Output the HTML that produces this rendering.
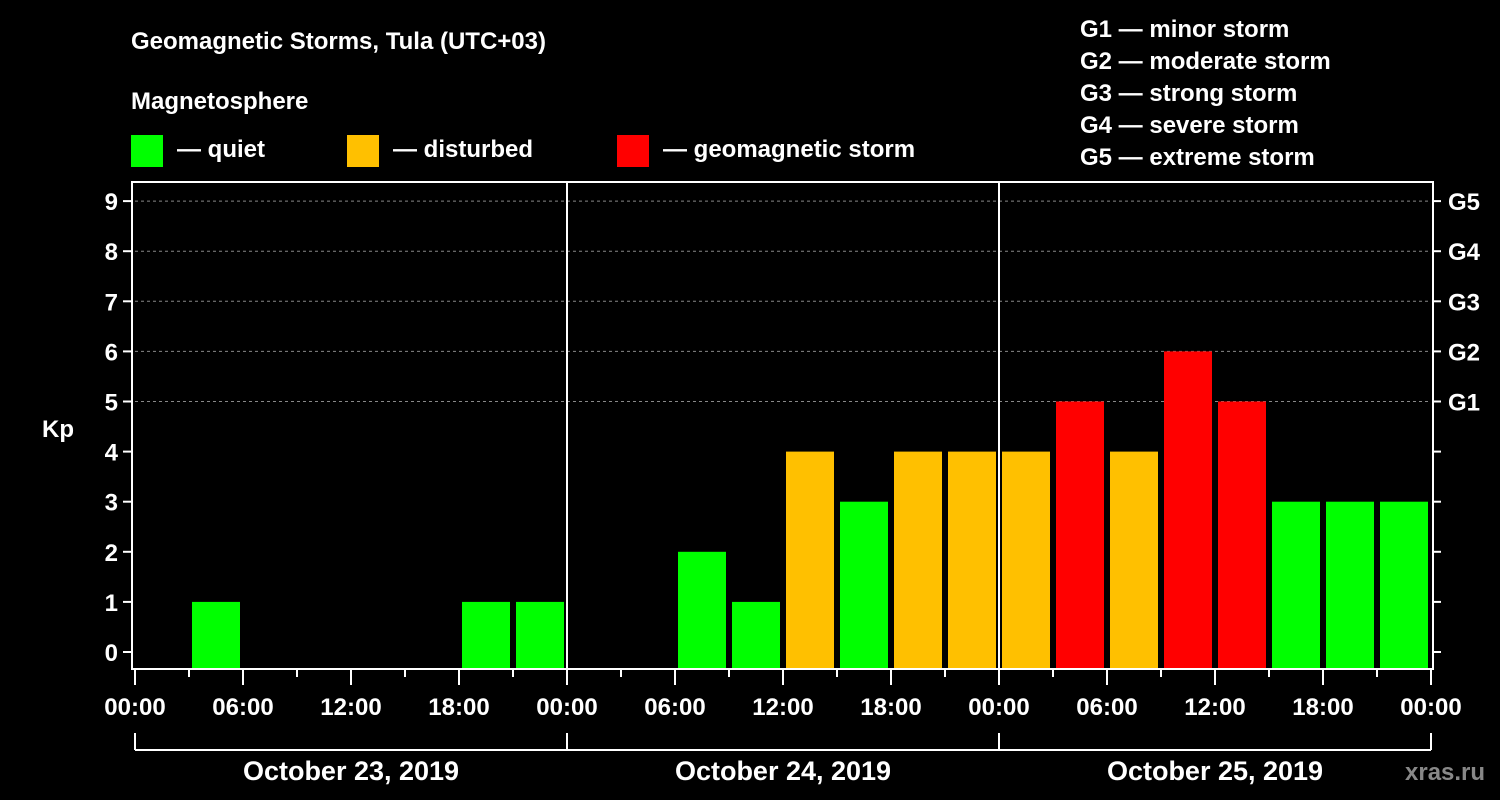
<!DOCTYPE html>
<html><head><meta charset="utf-8"><style>
body{margin:0;background:#000;}
svg{display:block;font-family:"Liberation Sans",Arial,sans-serif;font-weight:bold;}
</style></head><body>
<svg id="c" width="1500" height="800" viewBox="0 0 1500 800">
<rect width="1500" height="800" fill="#000"/>
<text x="131" y="49" fill="#fff" font-size="24">Geomagnetic Storms, Tula (UTC+03)</text>
<text x="131" y="109" fill="#fff" font-size="24">Magnetosphere</text>
<g><rect x="131" y="135" width="32" height="32" fill="#00ff00"/><text x="177" y="157" fill="#fff" font-size="24">— quiet</text></g>
<g><rect x="347" y="135" width="32" height="32" fill="#ffc000"/><text x="393" y="157" fill="#fff" font-size="24">— disturbed</text></g>
<g><rect x="617" y="135" width="32" height="32" fill="#ff0000"/><text x="663" y="157" fill="#fff" font-size="24">— geomagnetic storm</text></g>
<g fill="#fff" font-size="24">
<text x="1080" y="37">G1 — minor storm</text>
<text x="1080" y="69">G2 — moderate storm</text>
<text x="1080" y="101">G3 — strong storm</text>
<text x="1080" y="133">G4 — severe storm</text>
<text x="1080" y="165">G5 — extreme storm</text>
</g>
<text x="42" y="437" fill="#fff" font-size="24">Kp</text>
<text x="1405" y="780" fill="#888" font-size="24">xras.ru</text>
<g id="grid"></g><g id="bars"></g><g id="axes"></g>
</svg>
<script>
const days = ["October 23, 2019","October 24, 2019","October 25, 2019"];
const kpValues = [0,1,0,0,0,0,1,1, 0,0,2,1,4,3,4,4, 4,5,4,6,5,3,3,3];
const yTicks = [0,1,2,3,4,5,6,7,8,9];
const gLabels = ["G1","G2","G3","G4","G5"];
const xLabels = ["00:00","06:00","12:00","18:00"];
const NS="http://www.w3.org/2000/svg";
const X0=135, X1=1431, YT=182, YB=669;
const xs = h => X0 + h/72*(X1-X0);
const ys = v => 652 - v*50.1;
function mk(tag, attrs, parent, text){const e=document.createElementNS(NS,tag);for(const k in attrs)e.setAttribute(k,attrs[k]);if(text!==undefined)e.textContent=text;parent.appendChild(e);return e;}
const grid=document.getElementById('grid'), bars=document.getElementById('bars'), axes=document.getElementById('axes');
yTicks.forEach(v=>{
  if(v>=5){const l=mk('line',{x1:X0,x2:X1,y1:ys(v),y2:ys(v),stroke:'#888','stroke-dasharray':'3,3','stroke-width':1},grid);
  
  }
  mk('line',{x1:123,x2:133,y1:ys(v),y2:ys(v),stroke:'#fff','stroke-width':2},axes);
  mk('line',{x1:1433,x2:1441,y1:ys(v),y2:ys(v),stroke:'#fff','stroke-width':2},axes);
  const t=mk('text',{x:118,y:ys(v)+9,fill:'#fff','font-size':24,'text-anchor':'end'},axes,String(v));
  
  
});
gLabels.forEach((g,i)=>{
  const t=mk('text',{x:1448,y:ys(5+i)+9,fill:'#fff','font-size':24},axes,g);
  
  
});
kpValues.forEach((v,i)=>{
  if(v<=0)return;
  const c = v>=5?'#ff0000':(v>=4?'#ffc000':'#00ff00');
  const r=mk('rect',{x:xs(i*3)+3,y:ys(v),width:xs(3)-X0-6,height:YB-1-ys(v),fill:c},bars);
  
  
});
const fr=mk('rect',{x:132,y:YT,width:1301,height:YB-YT,fill:'none',stroke:'#fff','stroke-width':2},axes);


for(let d=1;d<days.length;d++){
  mk('line',{x1:xs(d*24),x2:xs(d*24),y1:YT,y2:YB,stroke:'#fff','stroke-width':2},axes);
}
for(let h=0;h<=72;h+=3){
  const major=h%6===0;
  mk('line',{x1:xs(h),x2:xs(h),y1:YB,y2:major?685:677,stroke:'#fff','stroke-width':2},axes);
  if(major){
    const t=mk('text',{x:xs(h),y:715,fill:'#fff','font-size':24,'text-anchor':'middle'},axes,xLabels[(h%24)/6]);
    
    
  }
}
mk('line',{x1:X0,x2:X1,y1:750,y2:750,stroke:'#fff','stroke-width':2},axes);
days.forEach((d,i)=>{
  mk('line',{x1:xs(i*24),x2:xs(i*24),y1:733,y2:750,stroke:'#fff','stroke-width':2},axes);
  const t=mk('text',{x:xs(i*24+12),y:780,fill:'#fff','font-size':27,'text-anchor':'middle'},axes,d);
  
  
});
mk('line',{x1:X1,x2:X1,y1:733,y2:750,stroke:'#fff','stroke-width':2},axes);
</script>
</body></html>
